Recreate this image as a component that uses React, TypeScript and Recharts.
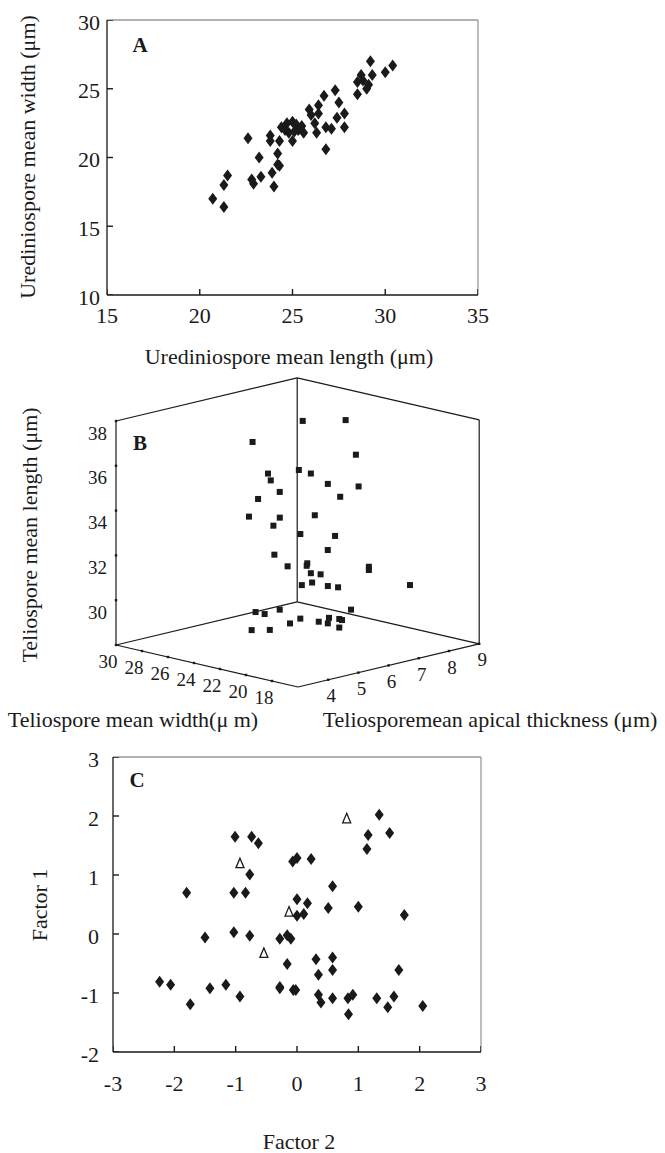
import React from "react";
import { ScatterChart, Scatter, XAxis, YAxis, ReferenceLine } from "recharts";

const SERIF = "Liberation Serif, Times New Roman, serif";
const INK = "#1a1a1a";
const FRAME = "#9a9a9a";

// ---------- A: urediniospores ----------
const uredLength = [20.7, 21.3, 21.3, 21.5, 22.6, 22.8, 22.9, 23.2, 23.3, 23.8, 23.8, 23.9, 24.0, 24.2, 24.3, 24.2, 24.3, 24.4, 24.7, 24.8, 25.0, 25.0, 25.2, 25.4, 25.6, 25.3, 25.9, 26.0, 26.2, 26.3, 26.4, 26.4, 26.7, 26.8, 26.8, 27.1, 27.3, 27.4, 27.5, 27.8, 27.8, 28.5, 28.5, 28.7, 28.8, 29.0, 29.1, 29.2, 29.3, 30.0, 30.4, 24.6, 25.1, 25.5];
const uredWidth = [17.0, 18.0, 16.4, 18.7, 21.4, 18.4, 18.1, 20.0, 18.6, 21.6, 21.2, 18.9, 17.9, 19.5, 19.4, 20.3, 21.2, 22.2, 22.5, 21.8, 21.2, 22.6, 22.4, 22.1, 21.8, 22.0, 23.5, 23.1, 22.5, 21.8, 23.8, 23.2, 24.5, 22.2, 20.6, 22.1, 24.9, 22.9, 24.0, 23.2, 22.2, 24.6, 25.5, 26.0, 25.6, 25.0, 25.3, 27.0, 26.0, 26.2, 26.7, 22.0, 21.9, 22.3];
const aLengthTicks = [15, 20, 25, 30, 35];
const aWidthTicks = [10, 15, 20, 25, 30];

// ---------- B: teliospores (3D) ----------
const telioWidth = [24, 24, 26, 22, 20, 24, 26, 22, 20, 24, 26, 22, 20, 24, 22, 24, 26, 22, 20, 24, 20, 24, 22, 20, 22, 24, 26, 20, 24, 22, 20, 22, 20, 24, 28, 26, 28, 24, 26, 22, 24, 22, 24, 20, 22, 26, 24];
const telioApical = [6.6, 8.02, 5.8, 7.5, 4.75, 5.45, 7.73, 4.68, 5.71, 8.45, 6.7, 6.98, 3.4, 4.82, 4.98, 7.0, 6.49, 5.66, 5.95, 7.43, 3.94, 6.1, 5.89, 5.01, 7.93, 8.79, 7.73, 5.47, 6.57, 6.05, 5.71, 6.91, 8.43, 8.2, 6.76, 6.2, 7.56, 6.52, 7.04, 6.27, 7.47, 6.57, 7.81, 6.18, 6.95, 5.77, 5.51];
const telioLength = [37.65, 37.23, 36.7, 36.12, 36.59, 35.67, 34.67, 35.88, 35.66, 34.13, 34.18, 34.41, 35.73, 33.95, 34.12, 33.31, 32.74, 33.17, 33.26, 31.62, 33.07, 31.32, 31.79, 32.23, 30.98, 30.29, 30.22, 31.7, 30.33, 30.88, 31.1, 30.39, 30.27, 28.71, 28.53, 28.89, 28.38, 28.85, 28.2, 29.06, 28.58, 28.89, 28.42, 29.43, 28.58, 28.31, 28.67];
const bWidthTicks = [30, 28, 26, 24, 22, 20, 18];
const bApicalTicks = [4, 5, 6, 7, 8, 9];
const bLengthTicks = [30, 32, 34, 36, 38];
const W_MAX = 30, W_MIN = 16, T_MIN = 3, T_MAX = 9, L_MIN = 28, L_MAX = 38;

// ---------- C: factor scores ----------
const factor2 = [1.34, 1.16, 1.51, 1.14, -1.01, -0.74, -0.63, -0.07, 0.0, 0.23, -0.77, -1.8, -1.03, -0.84, 0.58, 0.0, 0.17, 0.51, 1.0, 1.75, 0.0, 0.11, -1.5, -1.03, -0.77, -0.28, -0.16, -0.1, -0.16, 0.31, 0.58, 0.35, 0.58, 1.66, -2.24, -2.06, -1.74, -1.42, -1.16, -0.93, -0.28, -0.28, -0.06, -0.02, 0.35, 0.39, 0.58, 0.83, 0.91, 0.84, 1.3, 1.48, 1.58, 2.05];
const factor1 = [2.02, 1.68, 1.71, 1.44, 1.65, 1.65, 1.54, 1.23, 1.29, 1.27, 1.01, 0.7, 0.7, 0.7, 0.81, 0.59, 0.52, 0.44, 0.46, 0.32, 0.31, 0.34, -0.06, 0.03, -0.03, -0.08, -0.02, -0.08, -0.51, -0.43, -0.4, -0.69, -0.61, -0.61, -0.81, -0.86, -1.19, -0.92, -0.86, -1.06, -0.92, -0.9, -0.95, -0.95, -1.03, -1.16, -1.09, -1.09, -1.03, -1.36, -1.09, -1.24, -1.06, -1.22];
const refFactor2 = [0.81, -0.93, -0.13, -0.54];
const refFactor1 = [1.96, 1.2, 0.38, -0.32];
const cF2Ticks = [-3, -2, -1, 0, 1, 2, 3];
const cF1Ticks = [-2, -1, 0, 1, 2, 3];

// oblique projection of the 3D box onto the panel plane
const project = (w: number, t: number, L: number) => ({
  x: 298 - 13 * (w - W_MIN) + 30.2 * (t - T_MIN),
  y: 317 - 3 * (w - W_MIN) - 7.2 * (t - T_MIN) - 22.4 * (L - L_MIN),
});

const boxEdges: number[][][] = [
  [[W_MAX, T_MIN, L_MIN], [W_MAX, T_MIN, L_MAX]],
  [[W_MAX, T_MAX, L_MIN], [W_MAX, T_MAX, L_MAX]],
  [[W_MIN, T_MAX, L_MIN], [W_MIN, T_MAX, L_MAX]],
  [[W_MAX, T_MIN, L_MAX], [W_MAX, T_MAX, L_MAX]],
  [[W_MAX, T_MAX, L_MAX], [W_MIN, T_MAX, L_MAX]],
  [[W_MAX, T_MIN, L_MIN], [W_MIN, T_MIN, L_MIN]],
  [[W_MIN, T_MIN, L_MIN], [W_MIN, T_MAX, L_MIN]],
  [[W_MAX, T_MIN, L_MIN], [W_MAX, T_MAX, L_MIN]],
  [[W_MAX, T_MAX, L_MIN], [W_MIN, T_MAX, L_MIN]],
];

const Diamond = ({ cx, cy }: any) => (
  <polygon points={`${cx},${cy - 6} ${cx + 4.5},${cy} ${cx},${cy + 6} ${cx - 4.5},${cy}`} fill={INK} />
);
const OpenTriangle = ({ cx, cy }: any) => (
  <polygon points={`${cx},${cy - 5} ${cx + 4},${cy + 4.5} ${cx - 4},${cy + 4.5}`} fill="#fff" stroke={INK} strokeWidth={1.3} />
);
const Square = ({ cx, cy }: any) => <rect x={cx - 3} y={cy - 3} width={6} height={6} fill={INK} />;
const TickDot = ({ cx, cy }: any) => <rect x={cx - 1.2} y={cy - 1.2} width={2.4} height={2.4} fill={INK} />;
// inward tick marks, drawn at tick positions sitting on the axes
const TickRight = ({ cx, cy }: any) => <line x1={cx} x2={cx + 6} y1={cy} y2={cy} stroke={INK} strokeWidth={1.4} />;
const TickUp = ({ cx, cy }: any) => <line x1={cx} x2={cx} y1={cy} y2={cy - 6} stroke={INK} strokeWidth={1.4} />;

const SerifTick = (props: any) => (
  <text x={props.x} y={props.y} textAnchor={props.textAnchor} dominantBaseline="central"
    dy={props.vertical ? 2 : 9} style={{ fontFamily: SERIF, fontSize: 22, fill: INK }}>
    {props.payload.value}
  </text>
);

const axisStroke = { stroke: INK, strokeWidth: 1.3 };

function Title({ x, y, children, rotate = false, bold = false, size = 22 }: any) {
  return (
    <div
      style={{
        position: "absolute", left: x, top: y, whiteSpace: "nowrap", lineHeight: 1,
        fontFamily: SERIF, fontSize: size, fontWeight: bold ? 700 : 400, color: INK,
        transform: `translate(-50%, -50%)${rotate ? " rotate(-90deg)" : ""}`,
      }}
    >
      {children}
    </div>
  );
}

function PanelA() {
  const data = uredLength.map((x, i) => ({ x, y: uredWidth[i] }));
  const xTickMarks = aLengthTicks.map((x) => ({ x, y: 10 }));
  const yTickMarks = aWidthTicks.map((y) => ({ x: 15, y }));
  return (
    <ScatterChart width={500} height={340} margin={{ top: 20, right: 22, bottom: 0, left: 0 }}>
      <XAxis type="number" dataKey="x" domain={[15, 35]} allowDataOverflow ticks={aLengthTicks} interval={0}
        height={45} tickSize={0} tickMargin={11} tickLine={false} axisLine={axisStroke}
        tick={<SerifTick />} />
      <YAxis type="number" dataKey="y" domain={[10, 30]} allowDataOverflow ticks={aWidthTicks} interval={0}
        width={107} tickSize={0} tickMargin={7} tickLine={false} axisLine={axisStroke}
        tick={<SerifTick vertical />} />
      <ReferenceLine y={30} stroke={FRAME} strokeWidth={1.3} />
      <ReferenceLine x={35} stroke={FRAME} strokeWidth={1.3} />
      <Scatter data={xTickMarks} shape={<TickUp />} isAnimationActive={false} />
      <Scatter data={yTickMarks} shape={<TickRight />} isAnimationActive={false} />
      <Scatter data={data} shape={<Diamond />} isAnimationActive={false} />
    </ScatterChart>
  );
}

function PanelB() {
  const points = telioWidth.map((w, i) => project(w, telioApical[i], telioLength[i]));
  const lenTicks = bLengthTicks.map((L) => ({ ...project(W_MAX, T_MIN, L), label: L }));
  const widTicks = bWidthTicks.map((w) => ({ ...project(w, T_MIN, L_MIN), label: w }));
  const apiTicks = bApicalTicks.map((t) => ({ ...project(W_MIN, t, L_MIN), label: t }));
  const label = (dx: number, dy: number, anchor: string) => (p: any) => (
    <text x={p.cx + dx} y={p.cy + dy} textAnchor={anchor} dominantBaseline="central"
      style={{ fontFamily: SERIF, fontSize: 19, fill: INK }}>
      {p.payload.label}
    </text>
  );
  return (
    <ScatterChart width={665} height={400} margin={{ top: 0, right: 0, bottom: 0, left: 0 }}>
      <XAxis type="number" dataKey="x" domain={[0, 665]} allowDataOverflow hide />
      <YAxis type="number" dataKey="y" domain={[0, 400]} allowDataOverflow reversed hide />
      {boxEdges.map(([a, b], i) => {
        const p = project(a[0], a[1], a[2]);
        const q = project(b[0], b[1], b[2]);
        return (
          <ReferenceLine key={i} segment={[{ x: p.x, y: p.y }, { x: q.x, y: q.y }]}
            stroke={INK} strokeWidth={1.2} ifOverflow="visible" />
        );
      })}
      <Scatter data={[...lenTicks, ...widTicks, ...apiTicks]} shape={<TickDot />} isAnimationActive={false} />
      <Scatter data={lenTicks} shape={label(-9, 12, "end")} isAnimationActive={false} />
      <Scatter data={widTicks} shape={label(-8, 16, "middle")} isAnimationActive={false} />
      <Scatter data={apiTicks} shape={label(3, 16, "middle")} isAnimationActive={false} />
      <Scatter data={points} shape={<Square />} isAnimationActive={false} />
    </ScatterChart>
  );
}

function PanelC() {
  const data = factor2.map((x, i) => ({ x, y: factor1[i] }));
  const refs = refFactor2.map((x, i) => ({ x, y: refFactor1[i] }));
  const xTickMarks = cF2Ticks.map((x) => ({ x, y: -2 }));
  const yTickMarks = cF1Ticks.map((y) => ({ x: -3, y }));
  return (
    <ScatterChart width={500} height={360} margin={{ top: 17, right: 19, bottom: 0, left: 0 }}>
      <XAxis type="number" dataKey="x" domain={[-3, 3]} allowDataOverflow ticks={cF2Ticks} interval={0}
        height={48} tickSize={0} tickMargin={22} tickLine={false} axisLine={axisStroke}
        tick={<SerifTick />} />
      <YAxis type="number" dataKey="y" domain={[-2, 3]} allowDataOverflow ticks={cF1Ticks} interval={0}
        width={113} tickSize={0} tickMargin={14} tickLine={false} axisLine={axisStroke}
        tick={<SerifTick vertical />} />
      <ReferenceLine y={3} stroke={FRAME} strokeWidth={1.3} />
      <ReferenceLine x={3} stroke={FRAME} strokeWidth={1.3} />
      <Scatter data={xTickMarks} shape={<TickUp />} isAnimationActive={false} />
      <Scatter data={yTickMarks} shape={<TickRight />} isAnimationActive={false} />
      <Scatter data={data} shape={<Diamond />} isAnimationActive={false} />
      <Scatter data={refs} shape={<OpenTriangle />} isAnimationActive={false} />
    </ScatterChart>
  );
}

export default function App() {
  return (
    <div style={{ position: "absolute", left: 0, top: 0, width: 665, height: 1153, background: "#fff", overflow: "hidden", fontFamily: SERIF }}>
      <div style={{ position: "absolute", left: 0, top: 0 }}><PanelA /></div>
      <div style={{ position: "absolute", left: 0, top: 370 }}><PanelB /></div>
      <div style={{ position: "absolute", left: 0, top: 740 }}><PanelC /></div>

      <Title x={140} y={45} bold size={21}>A</Title>
      <Title x={28} y={157} rotate>Urediniospore mean width (μm)</Title>
      <Title x={289} y={357}>Urediniospore mean length (μm)</Title>

      <Title x={140} y={443} bold size={21}>B</Title>
      <Title x={30} y={535} rotate>Teliospore mean length (μm)</Title>
      <Title x={133} y={720}>Teliospore mean width(μ m)</Title>
      <Title x={490} y={720}>Teliosporemean apical thickness (μm)</Title>

      <Title x={137} y={780} bold size={21}>C</Title>
      <Title x={40} y={905} rotate>Factor 1</Title>
      <Title x={299} y={1142}>Factor 2</Title>
    </div>
  );
}
